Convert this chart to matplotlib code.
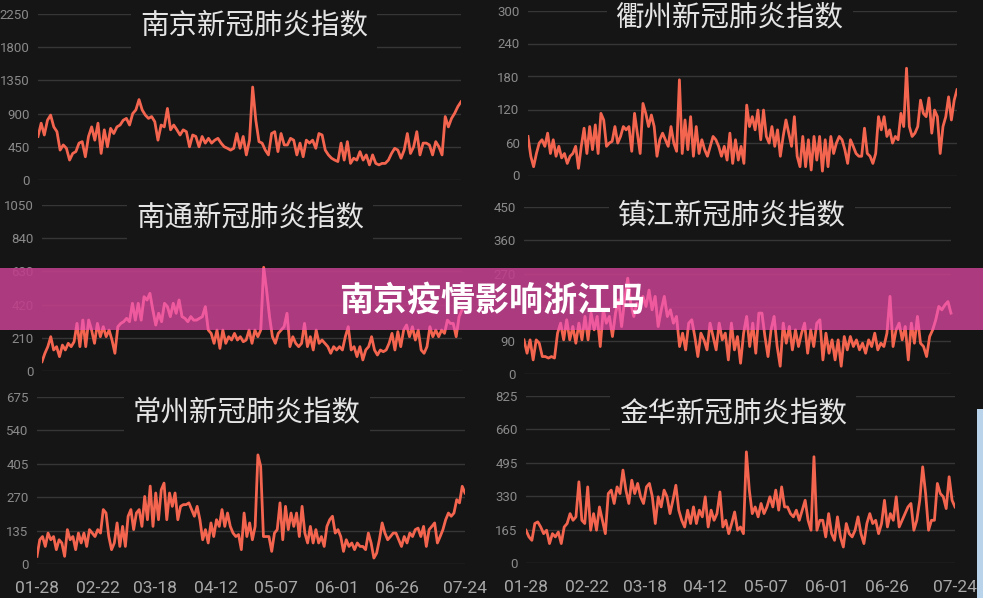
import numpy as np
import matplotlib
matplotlib.use("Agg")
import matplotlib.pyplot as plt
from matplotlib.patches import Rectangle

plt.rcParams['font.family'] = ['Noto Sans CJK SC', 'DejaVu Sans']

# day offsets of the x tick labels (01-28 .. 07-24)
tick_days = [0, 25, 49, 74, 99, 124, 149, 177]
tick_labels = ['01-28', '02-22', '03-18', '04-12', '05-07', '06-01', '06-26', '07-24']

nanjing = [590, 770, 610, 810, 880, 720, 655, 405, 475, 430, 270, 360, 385, 500, 520, 315, 590, 720, 540, 770,
           360, 680, 450, 700, 630, 720, 745, 810, 835, 745, 900, 950, 1090, 950, 880, 835, 860, 790, 540, 745,
           720, 970, 680, 745, 680, 610, 680, 655, 450, 610, 590, 450, 590, 500, 565, 500, 540, 565, 500, 450,
           430, 405, 430, 630, 430, 590, 340, 540, 1260, 810, 520, 500, 405, 340, 630, 655, 385, 630, 475, 475,
           565, 540, 340, 500, 315, 540, 500, 540, 430, 630, 610, 405, 340, 295, 270, 250, 500, 270, 520, 225,
           295, 270, 385, 270, 340, 205, 340, 225, 205, 225, 225, 270, 360, 430, 405, 295, 405, 630, 360, 450,
           655, 340, 500, 500, 475, 340, 520, 450, 340, 860, 720, 835, 905, 995, 1060]

quzhou = [71, 35, 16, 40, 59, 65, 53, 77, 40, 65, 35, 53, 32, 40, 22, 35, 40, 53, 13, 53, 86, 40, 89, 47, 92,
          40, 113, 101, 53, 59, 62, 89, 59, 71, 89, 83, 89, 44, 113, 77, 40, 131, 113, 89, 110, 89, 35, 65, 77,
          65, 53, 89, 59, 44, 174, 40, 101, 47, 107, 35, 89, 40, 65, 47, 35, 53, 71, 65, 53, 35, 53, 28, 77, 22,
          65, 28, 53, 22, 128, 89, 107, 83, 119, 65, 119, 71, 59, 89, 53, 83, 35, 71, 101, 77, 53, 107, 35, 16,
          71, 16, 65, 10, 71, 28, 71, 8, 65, 16, 71, 40, 59, 71, 65, 47, 22, 65, 53, 40, 35, 35, 86, 40, 35, 22,
          40, 107, 83, 107, 71, 83, 59, 71, 65, 113, 89, 195, 89, 71, 77, 89, 137, 113, 107, 141, 77, 119, 107,
          40, 89, 107, 143, 101, 137, 156]

nantong = [59, 112, 154, 217, 133, 154, 91, 164, 133, 175, 154, 185, 301, 154, 322, 154, 322, 259, 175, 301,
           217, 280, 217, 259, 196, 112, 280, 301, 312, 333, 312, 428, 322, 428, 322, 470, 449, 491, 386, 291,
           365, 312, 428, 407, 344, 428, 365, 449, 344, 333, 312, 344, 322, 322, 333, 344, 407, 259, 238, 175,
           259, 143, 259, 175, 217, 196, 238, 196, 217, 185, 196, 259, 175, 259, 217, 259, 656, 512, 344, 217,
           175, 238, 259, 280, 365, 154, 217, 175, 154, 175, 301, 154, 217, 133, 259, 175, 196, 175, 154, 112,
           154, 133, 154, 133, 217, 280, 133, 154, 91, 154, 70, 133, 154, 217, 133, 101, 133, 122, 133, 175,
           238, 133, 249, 154, 259, 291, 217, 280, 196, 259, 133, 112, 154, 280, 217, 259, 217, 259, 238, 322,
           301, 301, 217, 344, 386]

zhenjiang = [92, 56, 92, 38, 92, 83, 47, 47, 43, 47, 43, 110, 137, 92, 146, 92, 128, 83, 137, 92, 155, 92, 164,
             119, 155, 74, 173, 137, 155, 101, 164, 200, 128, 200, 258, 191, 155, 191, 177, 209, 182, 226, 173,
             209, 128, 173, 209, 155, 173, 137, 155, 74, 110, 65, 137, 146, 101, 47, 110, 92, 65, 137, 101, 65,
             137, 92, 110, 38, 137, 65, 101, 29, 110, 155, 74, 137, 56, 164, 164, 101, 47, 119, 155, 74, 21, 137,
             83, 128, 65, 119, 74, 110, 137, 56, 119, 74, 137, 146, 38, 110, 56, 92, 38, 92, 21, 101, 65, 101, 74,
             92, 65, 83, 56, 92, 74, 110, 65, 83, 74, 110, 209, 74, 119, 137, 92, 128, 38, 137, 83, 155, 83, 74,
             47, 101, 119, 146, 182, 173, 186, 195, 164]

changzhou = [31, 98, 111, 71, 125, 98, 111, 58, 98, 85, 31, 139, 98, 111, 58, 125, 85, 125, 71, 139, 125, 111,
             139, 125, 220, 206, 111, 58, 85, 166, 71, 152, 71, 193, 220, 139, 206, 220, 152, 273, 179, 315, 152,
             287, 179, 300, 327, 179, 287, 233, 287, 179, 233, 240, 240, 247, 220, 193, 233, 179, 98, 139, 85,
             166, 111, 179, 152, 220, 152, 206, 152, 125, 111, 119, 58, 206, 111, 166, 98, 152, 441, 395, 111,
             111, 111, 51, 125, 139, 247, 98, 233, 139, 206, 152, 206, 111, 233, 125, 85, 152, 85, 139, 85, 111,
             71, 152, 179, 193, 125, 139, 111, 51, 98, 71, 85, 58, 85, 71, 71, 58, 125, 85, 24, 44, 98, 166, 125,
             98, 111, 125, 125, 98, 71, 111, 85, 125, 111, 139, 145, 111, 152, 71, 139, 152, 166, 85, 111, 139,
             179, 206, 193, 206, 260, 247, 314, 287]

jinhua = [162, 129, 112, 195, 203, 178, 145, 162, 96, 145, 129, 153, 96, 178, 195, 244, 211, 228, 401, 211, 195,
          376, 162, 244, 162, 277, 211, 145, 343, 360, 294, 376, 343, 459, 360, 294, 409, 343, 393, 327, 294, 376,
          393, 327, 195, 327, 277, 360, 327, 244, 310, 384, 261, 211, 178, 261, 195, 277, 195, 261, 228, 327, 178,
          261, 211, 244, 351, 178, 211, 145, 195, 252, 162, 178, 145, 549, 360, 244, 277, 228, 294, 244, 277, 327,
          277, 360, 261, 376, 277, 277, 244, 228, 261, 211, 261, 310, 211, 162, 525, 162, 211, 211, 129, 244, 145,
          112, 228, 129, 79, 195, 145, 129, 162, 228, 145, 96, 195, 244, 195, 211, 145, 195, 310, 178, 244, 211,
          327, 178, 211, 244, 277, 294, 162, 211, 310, 475, 343, 162, 211, 211, 393, 343, 327, 269, 426, 310, 277]

W, H = 983, 598
BG = '#151515'
LINE = '#f4654f'
GRID = '#363636'

# (title, series, y max, y step, left, top, right, bottom in px, title centre x, y in px, show x labels)
panels = [
    ('南京新冠肺炎指数', nanjing, 2250, 450, 38, 14, 461, 180, 254, 25, False),
    ('衢州新冠肺炎指数', quzhou, 300, 60, 528, 10.5, 957, 175.5, 730, 17, False),
    ('南通新冠肺炎指数', nantong, 1050, 210, 42, 205, 462, 371, 250, 217, False),
    ('镇江新冠肺炎指数', zhenjiang, 450, 90, 524, 207, 951, 374, 732, 215, False),
    ('常州新冠肺炎指数', changzhou, 675, 135, 37, 397, 465, 564, 247, 412, True),
    ('金华新冠肺炎指数', jinhua, 825, 165, 526, 396, 955, 563, 733, 413, True),
]

fig = plt.figure(figsize=(W / 100, H / 100), dpi=100, facecolor=BG)

# banner area in figure fraction
band_top, band_bottom = 268, 330
band_clip = Rectangle((0, 1 - band_bottom / H), 1, (band_bottom - band_top) / H,
                      transform=fig.transFigure)


def px_rect(left, top, right, bottom):
    return [left / W, 1 - bottom / H, (right - left) / W, (bottom - top) / H]


for title, vals, ymax, step, l, t, r, b, tx, ty, xlab in panels:
    ax = fig.add_axes(px_rect(l, t, r, b))
    ax.set_facecolor(BG)
    days = np.linspace(0, 177, len(vals))
    ax.plot(days, vals, color=LINE, lw=2.0, solid_joinstyle='round')
    ax.set_xlim(0, 177)
    ax.set_ylim(0, ymax)
    yt = np.arange(0, ymax + 1, step)
    ax.set_yticks(yt)
    # a label sitting right under the banner text is hidden in the source
    ylabels = ['' if (ymax == 450 and v == 180) else str(v) for v in yt]
    ax.set_yticklabels(ylabels, fontfamily='Roboto')
    ax.grid(axis='y', color=GRID, lw=1.0)
    ax.set_axisbelow(True)
    for s in ax.spines.values():
        s.set_visible(False)
    ax.tick_params(axis='y', length=0, pad=6, labelsize=9.5, labelcolor='#8a8a8a')
    if xlab:
        ax.set_xticks(tick_days)
        ax.set_xticklabels(tick_labels, fontfamily='Roboto')
        ax.tick_params(axis='x', length=0, pad=12, labelsize=12.5, labelcolor='#a8a8a8')
    else:
        ax.set_xticks([])

    # panel title with a dark box that cuts the top gridlines
    fig.text(tx / W, 1 - ty / H, title, ha='center', va='center', fontsize=20.5,
             color='#e4e4e4', zorder=3,
             bbox=dict(boxstyle='square,pad=0.3', facecolor=BG, edgecolor='none'))

    # pink copy of the line that shows through the banner
    ov = fig.add_axes(px_rect(l, t, r, b), zorder=2)
    ov.patch.set_alpha(0)
    ov.axis('off')
    ov.set_xlim(0, 177)
    ov.set_ylim(0, ymax)
    pink, = ov.plot(days, vals, color='#f85ea3', lw=2.0, alpha=0.85)
    pink.set_clip_path(band_clip)

# banner across the middle
fig.add_artist(Rectangle((0, 1 - band_bottom / H), 1, (band_bottom - band_top) / H,
                         transform=fig.transFigure, facecolor='#be3f8a', alpha=0.9,
                         edgecolor='none', zorder=1))
fig.text(492 / W, 1 - 300 / H, '南京疫情影响浙江吗', ha='center', va='center',
         fontsize=24.5, fontweight='heavy', color='white', zorder=4)

# light strip at the right edge
fig.add_artist(Rectangle((977 / W, 0), 6 / W, 1 - 409 / H, transform=fig.transFigure,
                         facecolor='#b9d3ea', edgecolor='none', zorder=1))

fig.savefig('out.png', dpi=100, facecolor=BG)
